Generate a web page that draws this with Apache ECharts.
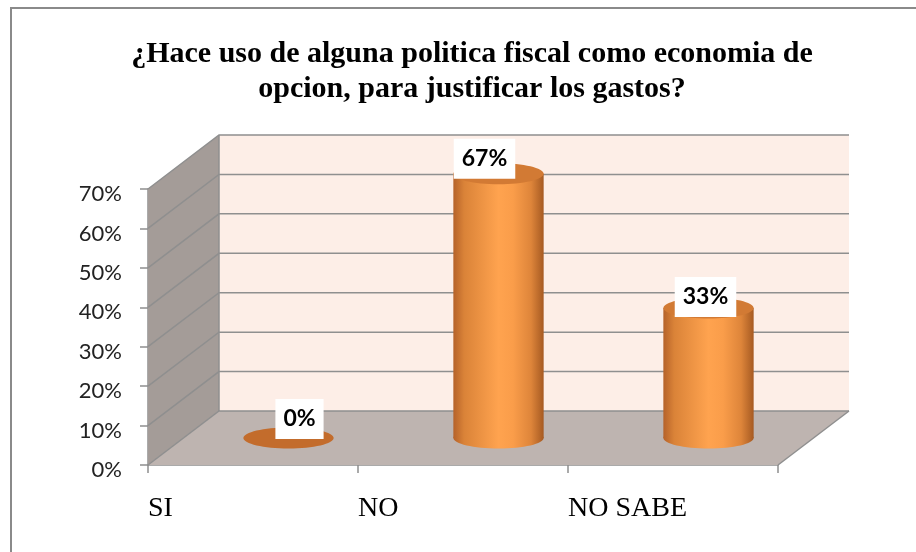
<!DOCTYPE html>
<html>
<head>
<meta charset="utf-8">
<script src="https://cdn.jsdelivr.net/npm/echarts@6/dist/echarts.min.js"></script>
<style>
html,body{margin:0;padding:0;background:#fff;}
#chart{width:916px;height:552px;}
</style>
</head>
<body>
<div id="chart"></div>
<script>
// ---- data ----
const categories = ['SI', 'NO', 'NO SABE'];
const values = [0, 67, 33];
const yTicks = [0, 10, 20, 30, 40, 50, 60, 70];
const titleText = '¿Hace uso de alguna politica fiscal como economia de\nopcion, para justificar los gastos?';

// ---- styling / layout (not data) ----
const DX = 71, DY = -54;                 // 3D depth offset
const labelShift = [[11, -19], [-14, -15], [-3, -11]];
const gridColor = '#8f8f8f';

const chart = echarts.init(document.getElementById('chart'), null, {renderer: 'canvas'});

function frame(params, api) {
  const cs = params.coordSys;
  return {x0: cs.x, x1: cs.x + cs.width,
          y0: api.coord([0, 0])[1], yTop: api.coord([0, yTicks[yTicks.length - 1]])[1]};
}

const option = {
  animation: false,
  title: {
    text: titleText,
    left: 467, top: 32, textAlign: 'center',
    textStyle: {fontFamily: 'Liberation Serif', fontWeight: 'bold', fontSize: 30, lineHeight: 35, color: '#000'}
  },
  graphic: [{
    type: 'rect', shape: {x: 11, y: 8, width: 930, height: 570},
    style: {fill: 'none', stroke: '#8a8a8a', lineWidth: 2}, silent: true
  }],
  grid: {left: 148, top: 189, width: 630, height: 276},
  xAxis: [{
    type: 'category', data: categories, boundaryGap: true,
    axisLine: {show: true, lineStyle: {color: gridColor, width: 1.5}},
    axisTick: {show: true, length: 8, lineStyle: {color: gridColor, width: 1.5}},
    axisLabel: {show: false}
  }, {
    type: 'category', data: categories.concat(['']), boundaryGap: false, position: 'bottom',
    axisLine: {show: false}, axisTick: {show: false},
    axisLabel: {show: true, interval: 0, align: 'left', margin: 30,
      fontFamily: 'Liberation Serif', fontSize: 28, lineHeight: 28, color: '#000'}
  }],
  yAxis: {
    type: 'value', min: 0, max: 70, interval: 10,
    axisLine: {show: true, lineStyle: {color: gridColor, width: 1.5}},
    axisTick: {show: true, length: 8, lineStyle: {color: gridColor, width: 1.5}},
    splitLine: {show: false},
    axisLabel: {
      formatter: function (v) { return '{t|' + v + '%}'; },
      margin: 26,
      rich: {t: {fontFamily: 'Lato', fontSize: 22, color: '#222', lineHeight: 22, padding: [10, 0, 0, 0]}}
    }
  },
  series: [
    { // walls & floor
      type: 'custom', z: 1, silent: true,
      data: [[0, 0]], encode: {x: 0, y: 1},
      renderItem: function (params, api) {
        const f = frame(params, api);
        return {type: 'group', children: [
          {type: 'polygon', shape: {points: [[f.x0 + DX, f.yTop + DY], [f.x1 + DX, f.yTop + DY], [f.x1 + DX, f.y0 + DY], [f.x0 + DX, f.y0 + DY]]},
           style: {fill: '#fdeee7'}},
          {type: 'polygon', shape: {points: [[f.x0, f.yTop], [f.x0 + DX, f.yTop + DY], [f.x0 + DX, f.y0 + DY], [f.x0, f.y0]]},
           style: {fill: '#a49c98'}},
          {type: 'polygon', shape: {points: [[f.x0, f.y0], [f.x0 + DX, f.y0 + DY], [f.x1 + DX, f.y0 + DY], [f.x1, f.y0]]},
           style: {fill: '#beb4b0'}},
          {type: 'line', shape: {x1: f.x0 + DX, y1: f.yTop + DY, x2: f.x0 + DX, y2: f.y0 + DY},
           style: {stroke: gridColor, lineWidth: 1.5}},
          {type: 'line', shape: {x1: f.x1, y1: f.y0, x2: f.x1 + DX, y2: f.y0 + DY},
           style: {stroke: gridColor, lineWidth: 1.5}}
        ]};
      }
    },
    { // gridlines on side & back walls
      type: 'custom', z: 2, silent: true,
      data: yTicks.map(v => [0, v]), encode: {x: 0, y: 1},
      renderItem: function (params, api) {
        const f = frame(params, api);
        const y = api.coord([0, api.value(1)])[1];
        return {type: 'polyline', shape: {points: [[f.x0, y], [f.x0 + DX, y + DY], [f.x1 + DX, y + DY]]},
                style: {stroke: gridColor, lineWidth: 1.5, fill: null}};
      }
    },
    { // cylinders
      type: 'custom', z: 3,
      data: values.map((v, i) => [i, v]), encode: {x: 0, y: 1},
      renderItem: function (params, api) {
        const i = api.value(0), v = api.value(1);
        const base = api.coord([i, 0]);
        const top = api.coord([i, v]);
        const bw = api.size([1, 0])[0];
        const rx = bw * 0.215, ry = 10.5;
        const cx = base[0] + DX / 2, yb = base[1] + DY / 2, yt = top[1] + DY / 2;
        const grad = new echarts.graphic.LinearGradient(0, 0, 1, 0, [
          {offset: 0, color: '#b5622a'}, {offset: 0.12, color: '#da8338'},
          {offset: 0.5, color: '#ffa34f'}, {offset: 0.66, color: '#fa9d4a'},
          {offset: 0.86, color: '#de853a'}, {offset: 1, color: '#a65a22'}]);
        const ch = [];
        if (v > 0) {
          ch.push({type: 'ellipse', shape: {cx: cx, cy: yb, rx: rx, ry: ry}, style: {fill: grad}});
          ch.push({type: 'rect', shape: {x: cx - rx, y: yt, width: 2 * rx, height: yb - yt}, style: {fill: grad}});
        }
        ch.push({type: 'ellipse', shape: {cx: cx, cy: yt, rx: rx, ry: ry},
                 style: {fill: v > 0 ? '#d27a34' : '#c36c2c'}});
        const sh = labelShift[i];
        ch.push({type: 'text', z2: 10, style: {
          text: v + '%', x: cx + sh[0], y: yt + sh[1], align: 'center', verticalAlign: 'middle',
          fontFamily: 'Lato', fontWeight: 'bold', fontSize: 23, fill: '#000',
          backgroundColor: '#fff', padding: [9, 8, 8, 8]}});
        return {type: 'group', children: ch};
      }
    }
  ]
};
chart.setOption(option);
</script>
</body>
</html>
